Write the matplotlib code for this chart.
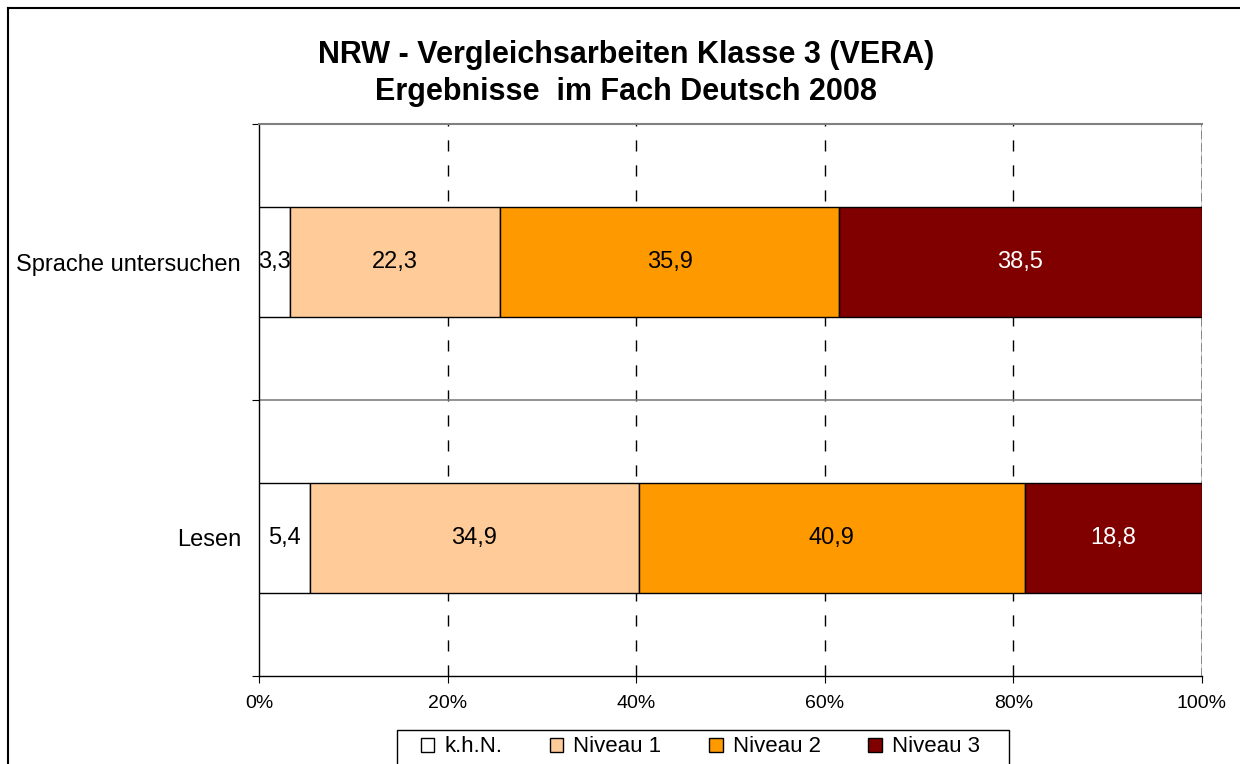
import matplotlib
matplotlib.use("Agg")
import matplotlib.pyplot as plt
from matplotlib.lines import Line2D
from matplotlib.patches import Patch, Rectangle

plt.rcParams['font.family'] = ['Liberation Sans', 'DejaVu Sans']

# data
categories = ["Lesen", "Sprache untersuchen"]
series_names = ["k.h.N.", "Niveau 1", "Niveau 2", "Niveau 3"]
khn = [5.4, 3.3]
niveau1 = [34.9, 22.3]
niveau2 = [40.9, 35.9]
niveau3 = [18.8, 38.5]
xticks = [0, 20, 40, 60, 80, 100]
colors = ["#FFFFFF", "#FFCC99", "#FF9900", "#800000"]
label_colors = ["black", "black", "black", "white"]

fig = plt.figure(figsize=(12.4, 7.64), dpi=100)
ax = fig.add_axes([259/1240, 1 - 676/764, (1202 - 259)/1240, (676 - 124)/764])

ypos = list(range(len(categories)))
left = [0.0] * len(categories)
for vals, col, lc in zip([khn, niveau1, niveau2, niveau3], colors, label_colors):
    bars = ax.barh(ypos, vals, left=left, height=0.4, color=col, edgecolor="black",
                   linewidth=1.0, zorder=3)
    for b, v in zip(bars, vals):
        ax.text(b.get_x() + b.get_width() / 2, b.get_y() + b.get_height() / 2,
                f"{v:.1f}".replace(".", ","), ha="center", va="center",
                fontsize=17, color=lc, zorder=4)
    left = [l + v for l, v in zip(left, vals)]

ax.set_xlim(0, 100)
ax.set_ylim(-0.5, 1.5)

# gridlines
for xv in xticks[1:-1]:
    ax.axvline(xv, color="black", linestyle=(0, (8, 10)), linewidth=1.0, zorder=1)
ax.axvline(100, color="#C8C8C8", linewidth=2.0, zorder=1)
ax.axvline(100, color="#808080", linestyle=(0, (3, 1.5)), linewidth=2.0, zorder=1)
ax.axhline(0.5, color="#808080", linewidth=1.2, zorder=1)

ax.spines['right'].set_visible(False)
ax.spines['top'].set_color("#808080")
ax.spines['top'].set_linewidth(1.5)
ax.spines['left'].set_linewidth(1.0)
ax.spines['bottom'].set_linewidth(1.0)

ax.set_xticks(xticks)
ax.set_xticklabels([f"{t}%" for t in xticks], fontsize=14)
ax.tick_params(axis='x', direction='out', length=5, pad=9)

ax.set_yticks([-0.5, 0.5, 1.5])
ax.set_yticklabels([])
ax.set_yticks(ypos, minor=True)
ax.set_yticklabels(categories, minor=True, fontsize=17)
ax.tick_params(axis='y', which='major', direction='out', length=5)
ax.tick_params(axis='y', which='minor', length=0, pad=13)

fig.text(0.505, 1 - 55/764, "NRW - Vergleichsarbeiten Klasse 3 (VERA)", ha="center", va="center",
         fontsize=22, fontweight="bold")
fig.text(0.505, 1 - 92/764, "Ergebnisse  im Fach Deutsch 2008", ha="center", va="center",
         fontsize=22, fontweight="bold")

# legend box drawn separately, legend itself without frame
fig.add_artist(Rectangle((397/1240, -0.01), (1009 - 397)/1240, 1 - 730/764 + 0.01,
                         transform=fig.transFigure, facecolor="white", edgecolor="black",
                         linewidth=1.0))
handles = [Patch(facecolor=c, edgecolor="black", linewidth=1.0) for c in colors]
leg = fig.legend(handles, series_names, loc="center left", ncol=4,
                 bbox_to_anchor=(421/1240, 1 - 747/764), fontsize=16,
                 handlelength=0.6, handleheight=0.6, handletextpad=0.45,
                 columnspacing=2.15, frameon=False,
                 borderpad=0, borderaxespad=0)

# chart area border (left and top visible)
fig.add_artist(Line2D([8/1240, 8/1240], [0, 1 - 8/764], transform=fig.transFigure,
                      color="black", linewidth=1.5))
fig.add_artist(Line2D([8/1240, 1], [1 - 8/764, 1 - 8/764], transform=fig.transFigure,
                      color="black", linewidth=1.5))

fig.savefig("out.png", dpi=100)
